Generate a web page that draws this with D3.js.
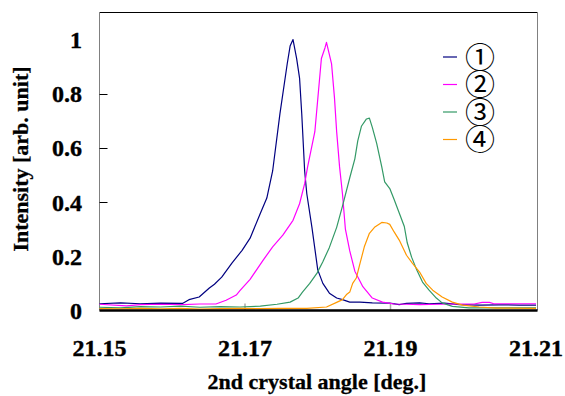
<!DOCTYPE html>
<html><head><meta charset="utf-8">
<script src="https://cdn.jsdelivr.net/npm/d3@7"></script>
<style>body{margin:0;background:#fff}svg{display:block}</style>
</head><body>
<script>
const seriesNames = ["①","②","③","④"];
const seriesColors = ["#000080","#ff00ff","#339966","#ff9900"];

const angles1 = [21.1500,21.1529,21.1556,21.1584,21.1614,21.1623,21.1637,21.1651,21.1658,21.1668,21.1682,21.1696,21.1707,21.1721,21.1730,21.1738,21.1748,21.1758,21.1762,21.1766,21.1771,21.1775,21.1778,21.1782,21.1785,21.1792,21.1800,21.1807,21.1816,21.1826,21.1834,21.1844,21.1858,21.1875,21.1899,21.1912,21.1922,21.1940,21.1953,21.1974,21.1995,21.2022,21.2049,21.2077,21.2100];
const values1 = [0.025,0.028,0.025,0.027,0.026,0.040,0.050,0.083,0.097,0.123,0.175,0.222,0.267,0.358,0.415,0.515,0.726,0.910,0.976,1.000,0.930,0.858,0.726,0.515,0.430,0.307,0.150,0.100,0.064,0.046,0.040,0.031,0.031,0.028,0.027,0.022,0.026,0.028,0.025,0.027,0.022,0.020,0.021,0.020,0.020];

const angles2 = [21.1500,21.1537,21.1556,21.1584,21.1614,21.1638,21.1660,21.1674,21.1688,21.1693,21.1707,21.1725,21.1738,21.1752,21.1766,21.1775,21.1782,21.1786,21.1796,21.1800,21.1805,21.1810,21.1812,21.1819,21.1823,21.1826,21.1830,21.1834,21.1838,21.1844,21.1851,21.1862,21.1875,21.1889,21.1905,21.1922,21.1940,21.1967,21.1995,21.2015,21.2026,21.2036,21.2042,21.2063,21.2100];
const values2 = [0.023,0.017,0.022,0.023,0.022,0.024,0.024,0.038,0.057,0.073,0.115,0.186,0.235,0.278,0.333,0.394,0.468,0.529,0.660,0.780,0.930,0.970,0.990,0.910,0.785,0.660,0.530,0.430,0.300,0.220,0.145,0.088,0.046,0.031,0.024,0.023,0.022,0.023,0.024,0.024,0.030,0.030,0.025,0.025,0.025];

const angles3 = [21.1500,21.1529,21.1556,21.1584,21.1611,21.1638,21.1666,21.1693,21.1721,21.1744,21.1762,21.1773,21.1779,21.1789,21.1799,21.1807,21.1816,21.1826,21.1834,21.1844,21.1851,21.1855,21.1860,21.1867,21.1871,21.1875,21.1881,21.1888,21.1892,21.1899,21.1905,21.1912,21.1919,21.1923,21.1929,21.1936,21.1944,21.1953,21.1963,21.1971,21.1985,21.2008,21.2036,21.2063,21.2100];
const values3 = [0.012,0.010,0.014,0.013,0.016,0.012,0.014,0.013,0.016,0.023,0.031,0.046,0.068,0.100,0.138,0.180,0.233,0.307,0.385,0.490,0.560,0.626,0.680,0.707,0.710,0.676,0.617,0.530,0.475,0.450,0.410,0.360,0.310,0.250,0.197,0.150,0.105,0.075,0.046,0.028,0.015,0.010,0.010,0.010,0.010];

const angles4 = [21.1500,21.1529,21.1556,21.1584,21.1611,21.1638,21.1666,21.1693,21.1721,21.1748,21.1785,21.1812,21.1826,21.1834,21.1840,21.1844,21.1848,21.1853,21.1858,21.1864,21.1871,21.1878,21.1888,21.1895,21.1899,21.1905,21.1912,21.1922,21.1930,21.1940,21.1949,21.1958,21.1971,21.1985,21.1999,21.2022,21.2045,21.2100];
const values4 = [0.007,0.006,0.008,0.006,0.008,0.005,0.007,0.008,0.007,0.008,0.008,0.013,0.030,0.040,0.060,0.068,0.100,0.120,0.173,0.235,0.285,0.307,0.325,0.323,0.318,0.290,0.260,0.204,0.175,0.142,0.100,0.075,0.050,0.031,0.020,0.013,0.009,0.008];

const xTickValues = [21.15,21.17,21.19,21.21];
const xTickLabels = ["21.15","21.17","21.19","21.21"];
const yTickValues = [0,0.2,0.4,0.6,0.8,1];
const yTickLabels = ["0","0.2","0.4","0.6","0.8","1"];
const yTickMarks = [0.4,0.6,0.8];
const xTickMarks = [21.17,21.19];
const xTitle = "2nd crystal angle [deg.]";
const yTitle = "Intensity [arb. unit]";

const series = [
  {name:seriesNames[0], color:seriesColors[0], a:angles1, v:values1},
  {name:seriesNames[1], color:seriesColors[1], a:angles2, v:values2},
  {name:seriesNames[2], color:seriesColors[2], a:angles3, v:values3},
  {name:seriesNames[3], color:seriesColors[3], a:angles4, v:values4}
];

const W = 565, H = 396;
const L = 99.5, R = 537.5, T = 12.5, B = 310.5;
const x = d3.scaleLinear().domain([21.15,21.21]).range([L, 536]);
const y = d3.scaleLinear().domain([0,1.1]).range([B, T]);

const svg = d3.select("body").append("svg").attr("width",W).attr("height",H);
const serif = "'Liberation Serif','Times New Roman',serif";

// frame
svg.append("line").attr("x1",L).attr("x2",R).attr("y1",T).attr("y2",T).attr("stroke","#000").attr("stroke-width",1);
svg.append("line").attr("x1",L).attr("x2",L).attr("y1",T).attr("y2",B).attr("stroke","#808080").attr("stroke-width",1);
svg.append("line").attr("x1",R).attr("x2",R).attr("y1",T).attr("y2",B).attr("stroke","#808080").attr("stroke-width",1);

// y tick marks
svg.selectAll("line.yt").data(yTickMarks).enter().append("line")
  .attr("x1",L).attr("x2",L+8).attr("y1",d=>Math.round(y(d))+0.5).attr("y2",d=>Math.round(y(d))+0.5)
  .attr("stroke","#000").attr("stroke-width",1);
// x tick marks
svg.selectAll("line.xt").data(xTickMarks).enter().append("line")
  .attr("x1",d=>x(d)).attr("x2",d=>x(d)).attr("y1",B-7).attr("y2",B)
  .attr("stroke","#aaa").attr("stroke-width",1.5);

// series
const line = d3.line().x(d=>x(d[0])).y(d=>y(d[1]));
series.forEach(s=>{
  const pts = s.a.map((a,i)=>[a,s.v[i]]);
  svg.append("path").datum(pts).attr("d",line).attr("fill","none")
    .attr("stroke",s.color).attr("stroke-width",1.2).attr("stroke-linejoin","round");
});

// bottom axis line
svg.append("line").attr("x1",L).attr("x2",R).attr("y1",B).attr("y2",B).attr("stroke","#000").attr("stroke-width",2.5);

// y tick labels
svg.selectAll("text.yl").data(yTickValues).enter().append("text")
  .attr("x",82).attr("y",d=>y(d)+8.5).attr("text-anchor","end")
  .attr("font-family",serif).attr("font-weight","bold").attr("font-size",24)
  .attr("stroke","#000").attr("stroke-width",0.4)
  .text((d,i)=>yTickLabels[i]);

// x tick labels
svg.selectAll("text.xl").data(xTickValues).enter().append("text")
  .attr("x",d=>x(d)).attr("y",356).attr("text-anchor","middle")
  .attr("font-family",serif).attr("font-weight","bold").attr("font-size",24)
  .attr("stroke","#000").attr("stroke-width",0.4)
  .text((d,i)=>xTickLabels[i]);

// titles
svg.append("text").attr("x",317).attr("y",389).attr("text-anchor","middle")
  .attr("font-family",serif).attr("font-weight","bold").attr("font-size",22)
  .attr("stroke","#000").attr("stroke-width",0.3).text(xTitle);
svg.append("text").attr("transform","translate(28,159) rotate(-90)").attr("text-anchor","middle")
  .attr("font-family",serif).attr("font-weight","bold").attr("font-size",22)
  .attr("stroke","#000").attr("stroke-width",0.3).text(yTitle);

// legend
const lg = svg.append("g");
series.forEach((s,i)=>{
  const yy = 57 + i*27.5;
  lg.append("line").attr("x1",443).attr("x2",457).attr("y1",yy).attr("y2",yy).attr("stroke",s.color).attr("stroke-width",1.2);
  lg.append("text").attr("x",465).attr("y",yy+10.5)
    .attr("font-family","'Noto Sans CJK JP',sans-serif").attr("font-size",30).attr("fill","#000")
    .text(s.name);
});
</script>
</body></html>
